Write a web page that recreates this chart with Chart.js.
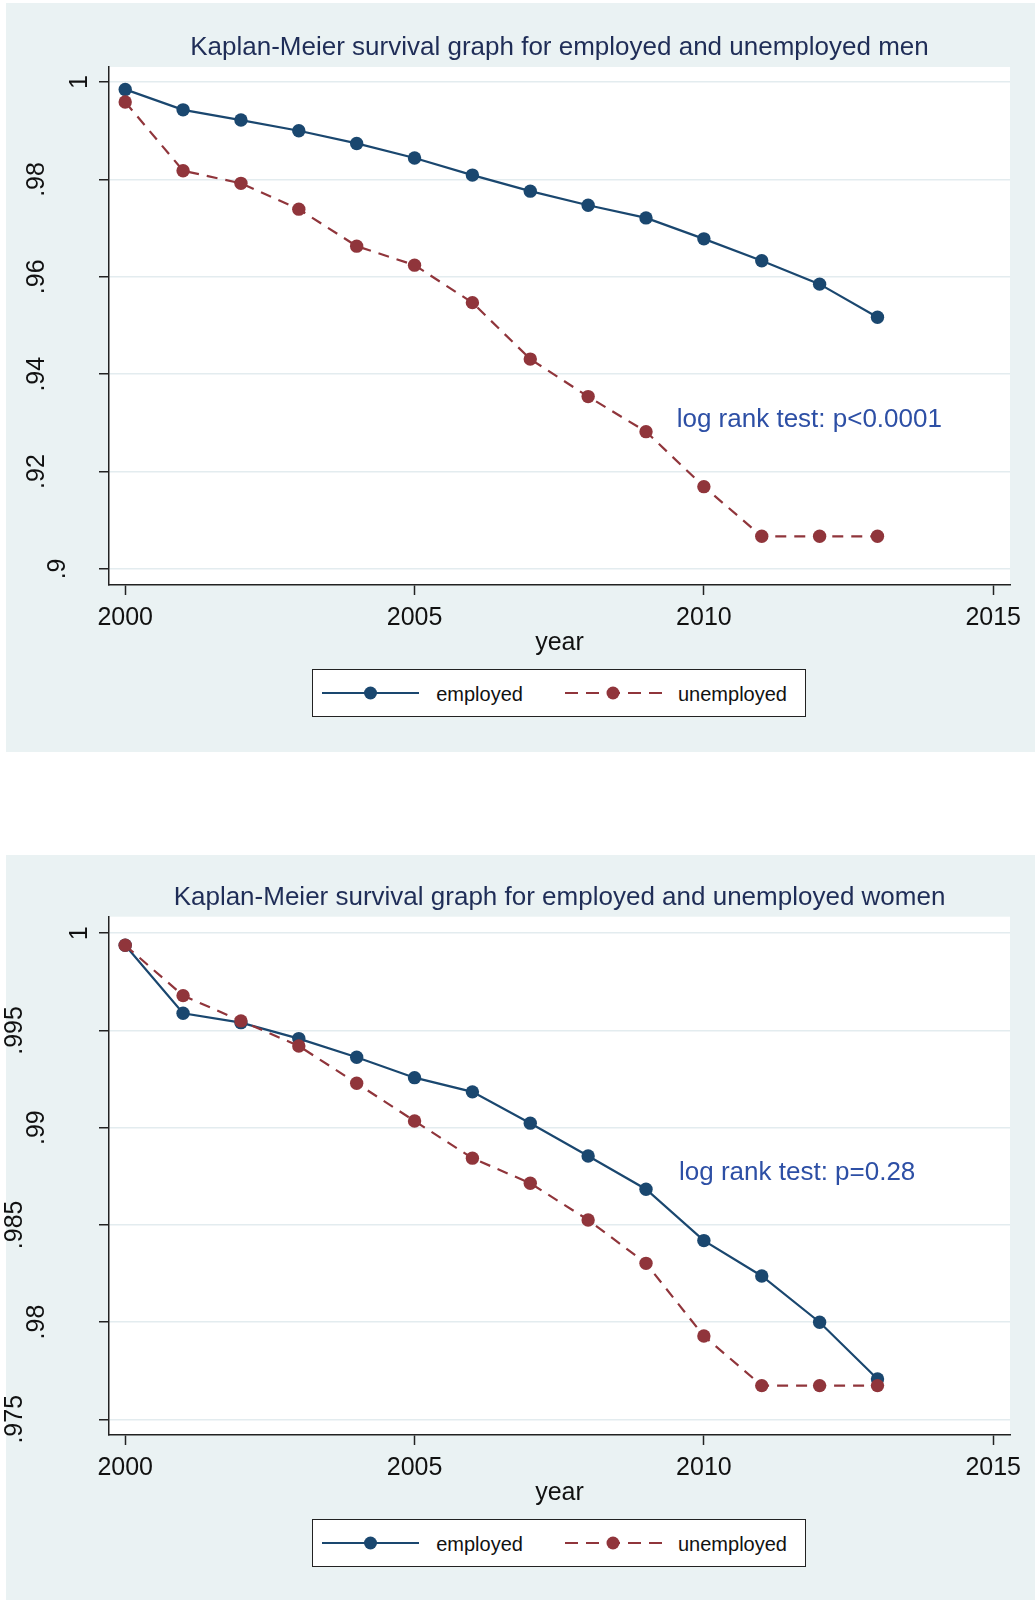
<!DOCTYPE html>
<html>
<head>
<meta charset="utf-8">
<script src="https://cdn.jsdelivr.net/npm/chart.js@4.4.1/dist/chart.umd.min.js"></script>
<style>
  body { margin: 0; background: #fff; font-family: "Liberation Sans", Arial, sans-serif; }
  .panel { position: absolute; left: 0; width: 1035px; }
  .panel .bg { position: absolute; left: 6px; top: 0; right: 0; bottom: 0; background: #eaf2f3; }
  #p1 { top: 3px; height: 749px; }
  #p2 { top: 855px; height: 745px; }
  .panel canvas { position: absolute; left: 0; top: 0; }
  .legend { position: absolute; left: 311.7px; width: 492px; height: 46px; border: 1.5px solid #222; background: #fff; font-size: 20px; color: #111; }
  .legend svg, .legend span { position: absolute; }
  .legend svg { top: 13px; }
  .legend span { top: 12px; line-height: 24px; }
</style>
</head>
<body>

<div class="panel" id="p1">
  <div class="bg"></div>
  <canvas id="men" width="1035" height="749"></canvas>
  <div class="legend" style="top:666.3px">
    <svg style="left:9.5px" width="97" height="20"><line x1="0" y1="10" x2="97" y2="10" stroke="#1a476f" stroke-width="2.2"/><circle cx="48.5" cy="10" r="6.5" fill="#1a476f"/></svg>
    <span style="left:123.5px">employed</span>
    <svg style="left:252.8px" width="97" height="20"><line x1="0" y1="10" x2="97" y2="10" stroke="#90353b" stroke-width="2.2" stroke-dasharray="13 8"/><circle cx="48" cy="10" r="6.5" fill="#90353b"/></svg>
    <span style="left:365.3px">unemployed</span>
  </div>
</div>

<div class="panel" id="p2">
  <div class="bg"></div>
  <canvas id="women" width="1035" height="745"></canvas>
  <div class="legend" style="top:664.3px">
    <svg style="left:9.5px" width="97" height="20"><line x1="0" y1="10" x2="97" y2="10" stroke="#1a476f" stroke-width="2.2"/><circle cx="48.5" cy="10" r="6.5" fill="#1a476f"/></svg>
    <span style="left:123.5px">employed</span>
    <svg style="left:252.8px" width="97" height="20"><line x1="0" y1="10" x2="97" y2="10" stroke="#90353b" stroke-width="2.2" stroke-dasharray="13 8"/><circle cx="48" cy="10" r="6.5" fill="#90353b"/></svg>
    <span style="left:365.3px">unemployed</span>
  </div>
</div>

<script>
// years of follow-up
var years = [2000, 2001, 2002, 2003, 2004, 2005, 2006, 2007, 2008, 2009, 2010, 2011, 2012, 2013];

// survival estimates
var menEmployed   = [0.9985, 0.9943, 0.9922, 0.9900, 0.9874, 0.9844, 0.9809, 0.9776, 0.9747, 0.9721, 0.9678, 0.9633, 0.9585, 0.9517];
var menUnemployed = [0.9959, 0.9818, 0.9792, 0.9739, 0.9663, 0.9624, 0.9547, 0.9431, 0.9354, 0.9282, 0.9169, 0.9067, 0.9067, 0.9067];
var womenEmployed   = [0.99938, 0.99588, 0.99540, 0.99458, 0.99362, 0.99257, 0.99184, 0.99023, 0.98854, 0.98683, 0.98419, 0.98237, 0.97999, 0.97707];
var womenUnemployed = [0.99938, 0.99679, 0.99549, 0.99420, 0.99228, 0.99034, 0.98843, 0.98714, 0.98525, 0.98302, 0.97928, 0.97673, 0.97673, 0.97673];

// axis ticks
var xTicks = [2000, 2005, 2010, 2015];
var xTickLabels = ['2000', '2005', '2010', '2015'];
var menYTicks = [0.9, 0.92, 0.94, 0.96, 0.98, 1];
var menYTickLabels = ['.9', '.92', '.94', '.96', '.98', '1'];
var womenYTicks = [0.975, 0.98, 0.985, 0.99, 0.995, 1];
var womenYTickLabels = ['.975', '.98', '.985', '.99', '.995', '1'];

var NAVY = '#1a476f', MAROON = '#90353b';
var FONT = '"Liberation Sans", Arial, sans-serif';

function pairs(xs, ys) {
  return xs.map(function (x, i) { return { x: x, y: ys[i] }; });
}

// white plot region, title, vertical y labels and the test note
var decor = {
  id: 'decor',
  beforeDraw: function (chart) {
    var a = chart.chartArea, ctx = chart.ctx;
    ctx.save();
    ctx.fillStyle = '#fff';
    ctx.fillRect(a.left, a.top, a.right - a.left, a.bottom - a.top);
    ctx.restore();
  },
  afterDraw: function (chart) {
    var o = chart.options.plugins.decor;
    var a = chart.chartArea, ctx = chart.ctx;
    var ys = chart.scales.y, xs = chart.scales.x;
    ctx.save();

    ctx.textBaseline = 'middle';
    ctx.font = '26px ' + FONT;
    ctx.fillStyle = '#1f2d57';
    ctx.textAlign = 'center';
    ctx.fillText(o.title, (a.left + a.right) / 2, a.top - 19);

    // stata-style vertical labels, longer ones sit further out
    ctx.textBaseline = 'alphabetic';
    ctx.font = '25px ' + FONT;
    ctx.fillStyle = '#111';
    ys.ticks.forEach(function (t, i) {
      var txt = o.yLabels[i];
      ctx.save();
      ctx.translate(a.left - 22 - 21.7 * (txt.length - 1), ys.getPixelForValue(t.value));
      ctx.rotate(-Math.PI / 2);
      ctx.fillText(txt, 0, 0);
      ctx.restore();
    });

    ctx.textBaseline = 'middle';
    ctx.font = '26px ' + FONT;
    ctx.fillStyle = '#2d4fa5';
    ctx.textAlign = 'left';
    ctx.fillText(o.note, xs.getPixelForValue(o.noteX), ys.getPixelForValue(o.noteY));
    ctx.restore();
  }
};

function makeChart(id, c) {
  return new Chart(document.getElementById(id), {
    type: 'line',
    data: {
      datasets: [
        { label: 'employed', data: pairs(years, c.employed), borderColor: NAVY, backgroundColor: NAVY,
          borderWidth: 2.2, pointRadius: 6.7, pointBorderWidth: 0, tension: 0, order: 1 },
        { label: 'unemployed', data: pairs(years, c.unemployed), borderColor: MAROON, backgroundColor: MAROON,
          borderWidth: 2.2, borderDash: [11, 8], pointRadius: 6.7, pointBorderWidth: 0, tension: 0, order: 0 }
      ]
    },
    options: {
      responsive: false,
      animation: false,
      events: [],
      layout: { padding: { top: c.padTop, right: 25, bottom: c.padBottom, left: 0 } },
      plugins: {
        legend: { display: false },
        tooltip: { enabled: false },
        decor: { title: c.title, yLabels: c.yLabels, note: c.note, noteX: c.noteX, noteY: c.noteY }
      },
      scales: {
        x: {
          type: 'linear', min: 1999.72, max: 2015.29,
          afterBuildTicks: function (s) { s.ticks = xTicks.map(function (v) { return { value: v }; }); },
          afterFit: function (s) { s.height = 80; },
          grid: { drawOnChartArea: false, tickLength: 10, tickColor: '#222', tickWidth: 1.5 },
          border: { color: '#222', width: 1.5 },
          ticks: { padding: 8, color: '#111', font: { family: FONT, size: 25 },
                   callback: function (v, i) { return xTickLabels[i]; } },
          title: { display: true, text: 'year', color: '#111', font: { family: FONT, size: 25 },
                   padding: { top: 0, bottom: 7 } }
        },
        y: {
          type: 'linear', min: c.yMin, max: c.yMax,
          afterBuildTicks: function (s) { s.ticks = c.yTicks.map(function (v) { return { value: v }; }); },
          afterFit: function (s) { s.width = 109; },
          grid: { color: '#e3ecef', lineWidth: 1.5, tickLength: 10, tickColor: '#222', tickWidth: 1.5 },
          border: { color: '#222', width: 1.5 },
          ticks: { display: false }
        }
      }
    },
    plugins: [decor]
  });
}

makeChart('men', {
  title: 'Kaplan-Meier survival graph for employed and unemployed men',
  employed: menEmployed, unemployed: menUnemployed,
  yTicks: menYTicks, yLabels: menYTickLabels, yMin: 0.8967, yMax: 1.0031,
  note: 'log rank test: p<0.0001', noteX: 2009.53, noteY: 0.9306,
  padTop: 64, padBottom: 87
});

makeChart('women', {
  title: 'Kaplan-Meier survival graph for employed and unemployed women',
  employed: womenEmployed, unemployed: womenUnemployed,
  yTicks: womenYTicks, yLabels: womenYTickLabels, yMin: 0.97419, yMax: 1.00085,
  note: 'log rank test: p=0.28', noteX: 2009.57, noteY: 0.98765,
  padTop: 61.7, padBottom: 85
});
</script>
</body>
</html>
